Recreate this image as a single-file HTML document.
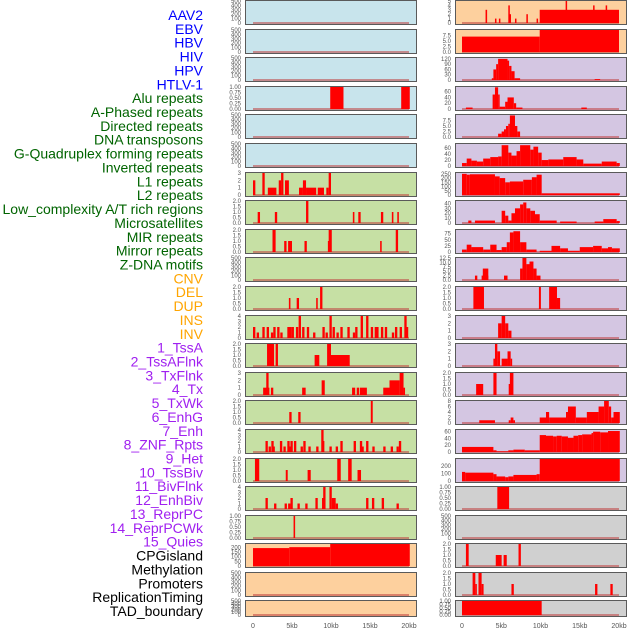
<!DOCTYPE html>
<html><head><meta charset="utf-8">
<style>
html,body{margin:0;padding:0;background:#fff;width:630px;height:630px;overflow:hidden}
svg{display:block;font-family:"Liberation Sans",sans-serif}
</style></head>
<body>
<svg id="chart" width="630" height="630" viewBox="0 0 630 630" xmlns="http://www.w3.org/2000/svg"></svg>
<script>
// ---- category labels ----
const labels = ["AAV2","EBV","HBV","HIV","HPV","HTLV-1","Alu repeats","A-Phased repeats","Directed repeats","DNA transposons","G-Quadruplex forming repeats","Inverted repeats","L1 repeats","L2 repeats","Low_complexity A/T rich regions","Microsatellites","MIR repeats","Mirror repeats","Z-DNA motifs","CNV","DEL","DUP","INS","INV","1_TssA","2_TssAFlnk","3_TxFlnk","4_Tx","5_TxWk","6_EnhG","7_Enh","8_ZNF_Rpts","9_Het","10_TssBiv","11_BivFlnk","12_EnhBiv","13_ReprPC","14_ReprPCWk","15_Quies","CPGisland","Methylation","Promoters","ReplicationTiming","TAD_boundary"];
const labelGroups = [6,13,5,15,5];
const groupColors = ["#0000ff","#006400","#ffa500","#a020f0","#000000"];
const xTickValues = [0,5,10,15,20];
const xTickLabels = ["0","5kb","10kb","15kb","20kb"];

// ---- tick label arrays ----
const T500 = ["0","100","200","300","400","500"];
const T2 = ["0.0","0.5","1.0","1.5","2.0"];
const T1 = ["0.00","0.25","0.50","0.75","1.00"];
const T3 = ["0","1","2","3"];
const T4 = ["0","1","2","3","4"];
const leftTicks = [T500,T500,T500,T1,T500,T500,T3,T2,T2,T500,T2,T4,T2,T3,T2,T4,T2,T4,T1,["0","50","100","150","200"],T500,T500];
const leftMax = [500,500,500,1,500,500,3,2,2,500,2,4,2,3,2,4,2,4,1,237,500,500];
const rightTicks = [["0","1","2","3","4","5"],["0.0","2.5","5.0","7.5"],["0","30","60","90","120"],["0","20","40","60"],["0.0","2.5","5.0","7.5"],["0","20","40","60"],["0","50","100","150","200","250"],["0","10","20","30","40"],["0","25","50","75"],["0.0","2.5","5.0","7.5","10.0","12.5"],T2,T3,T3,T2,["0","2","4","6","8"],["0","20","40","60"],["0","100","200"],T1,T500,T2,T2,T1];
const rightMax = [5,10,125,76,10,74,260,45,90,12.5,2,3,3,2,8,65,290,1,500,2,2,1];
const leftBg = ["#c8e4ec","#c8e4ec","#c8e4ec","#c8e4ec","#c8e4ec","#c8e4ec","#c6e0a4","#c6e0a4","#c6e0a4","#c6e0a4","#c6e0a4","#c6e0a4","#c6e0a4","#c6e0a4","#c6e0a4","#c6e0a4","#c6e0a4","#c6e0a4","#c6e0a4","#fdd09e","#fdd09e","#fdd09e"];
const rightBg = ["#fdd09e","#fdd09e","#d4c6e2","#d4c6e2","#d4c6e2","#d4c6e2","#d4c6e2","#d4c6e2","#d4c6e2","#d4c6e2","#d4c6e2","#d4c6e2","#d4c6e2","#d4c6e2","#d4c6e2","#d4c6e2","#d4c6e2","#d0d0d0","#d0d0d0","#d0d0d0","#d0d0d0","#d0d0d0"];

// ---- series: [startKb, endKb, value] ----
const L3 = [[9.9,11.6,1],[19.0,20.1,1]];
const L6 = [[0,0.3,2],[1.2,1.5,3],[1.9,3.0,1],[3.3,3.6,2],[3.6,3.9,3],[4.1,4.6,2],[5.9,6.4,1],[6.4,6.8,2],[6.8,8.1,1],[8.3,9.1,1],[9.4,9.7,1],[9.7,10.0,3]];
const L7 = [[0.6,0.9,1],[2.8,3.1,1],[6.8,7.1,2],[12.8,13.0,1],[13.5,13.8,1],[16.4,16.7,1],[17.8,18.0,1],[18.5,18.7,1]];
const L8 = [[2.5,2.9,2],[4.0,4.3,1],[4.5,5.0,1],[6.6,6.9,1],[9.6,9.7,1],[9.7,10.1,2],[16.3,16.5,1],[18.3,18.6,2]];
const L10 = [[4.6,4.8,1],[5.6,5.9,1],[8.1,8.3,1],[8.6,8.9,2]];
const L11pos = [0.0,0.47,1.2,1.75,2.3,2.6,3.1,3.5,4.4,4.65,4.95,5.5,5.85,6.3,6.9,7.7,8.9,9.3,9.8,10.2,10.7,11.2,12.1,12.8,13.1,13.8,14.5,15.1,15.6,15.8,16.4,16.9,17.8,18.2,18.8,19.4,19.6];
const L11val = [2,1,2,2,1,2,2,1,2,2,2,2,4,2,2,1,2,1,4,2,1,2,2,1,2,4,4,2,2,2,2,2,1,2,2,4,2];
const L12 = [[1.8,2.7,2],[2.9,3.2,2],[7.9,8.5,1],[9.5,10.0,2],[10.0,12.4,1]];
const L13 = [[1.3,2.1,1],[1.7,2.0,3],[2.3,2.6,1],[6.3,6.75,1],[8.8,9.2,2],[12.7,13.1,1],[13.3,13.6,1],[13.7,14.6,1],[16.7,17.5,1],[17.5,18.8,2],[18.8,19.3,3],[19.3,19.4,1]];
const L14 = [[4.65,4.95,1],[5.8,6.1,1],[15.1,15.35,2]];
const L15pos = [1.6,2.0,2.35,2.5,3.45,3.9,4.4,4.55,4.8,5.25,6.1,6.45,7.1,8.1,8.75,8.85,9.8,10.6,11.2,12.9,13.7,13.9,14.5,15.3,16.7,17.65,18.4,18.7];
const L15val = [2,1,2,1,2,1,2,1,2,2,1,2,1,1,4,2,1,1,2,2,2,1,2,1,1,1,1,2];
const L16 = [[0.25,0.8,2],[4.2,4.45,1],[7.0,7.4,1],[10.8,11.25,2],[12.2,12.65,2],[13.4,13.85,1]];
const L17pos = [1.6,2.7,4.05,4.5,4.8,5.7,6.7,8.0,8.85,9.0,9.8,10.1,10.3,10.6,14.5,15.25,16.5,18.4];
const L17val = [2,1,1,1,2,1,1,2,2,4,4,2,2,1,2,2,2,1];
const L18 = [[5.2,5.4,1]];
const L19 = [[0,4.65,193],[4.65,9.9,203],[9.9,20.1,240]];

const R0 = [[3.0,3.2,3],[4.2,4.35,1],[4.7,4.85,1],[5.9,6.05,4],[6.05,6.2,2],[6.75,6.9,1],[8.2,8.35,2],[9.5,9.65,1],[9.9,20.0,3],[13.2,13.35,5],[16.7,16.85,4],[18.3,18.45,4]];
const R1 = [[0,9.9,7.0],[9.9,20,10]];
const R2 = [[3.8,4.0,10],[4.0,4.35,60],[4.35,4.6,90],[4.6,5.8,120],[5.8,6.0,110],[6.0,6.3,80],[6.3,6.7,50],[6.7,7.4,10],[16.9,17.6,5]];
const R3 = [[0.5,1.35,5],[3.9,4.2,50],[4.2,4.6,75],[4.6,4.8,50],[4.8,5.5,8],[5.5,5.8,25],[5.8,6.6,40],[6.6,6.9,20],[6.9,7.7,5],[15.2,15.9,5]];
const R4 = [[4.6,5.05,1.5],[5.05,5.35,2.5],[5.35,5.6,3.5],[5.6,5.9,5],[5.9,6.1,6],[6.1,6.75,9.8],[6.75,7.05,5],[7.05,7.4,2.5]];
const R5 = [[0,0.6,10],[0.6,1.2,25],[1.2,1.9,18],[1.9,2.7,15],[2.7,3.6,25],[3.6,4.6,30],[4.6,5.05,32],[5.05,5.9,70],[5.9,6.3,45],[6.3,6.95,35],[6.95,7.4,50],[7.4,8.7,70],[8.7,9.1,55],[9.1,9.7,65],[9.7,10.15,45],[10.15,11.0,20],[11.0,12.9,22],[12.9,14.6,30],[14.6,15.45,22],[15.45,17.8,8],[17.8,19.7,15],[19.7,20.1,10]];
const R6 = [[0,0.6,250],[0.6,1.0,240],[1.0,4.2,245],[4.2,4.8,220],[4.8,5.5,200],[5.5,6.1,150],[6.1,7.8,160],[7.8,8.9,180],[8.9,9.5,210],[9.5,10.15,240],[10.15,20.1,20]];
const R7 = [[0.8,1.2,5],[1.65,4.2,5],[5.05,5.5,25],[5.5,5.9,15],[5.9,6.3,5],[6.3,6.75,20],[6.75,7.4,30],[7.4,7.8,38],[7.8,8.2,42],[8.2,8.7,30],[8.7,9.3,25],[9.3,9.9,18],[9.9,11.4,5],[11.4,12.06,5],[12.5,14.6,3],[16.9,18.0,3],[18.0,19.7,8],[19.7,20.1,4]];
const R8 = [[0,0.6,10],[0.6,1.2,30],[1.2,2.7,20],[2.7,3.6,10],[3.6,4.4,30],[4.4,5.05,8],[5.05,5.7,20],[5.7,6.1,40],[6.1,6.55,80],[6.55,7.4,85],[7.4,8.2,40],[8.2,9.5,10],[9.9,11.4,5],[11.4,12.5,25],[12.5,13.5,15],[13.5,15.0,5],[15.0,16.7,20],[16.7,17.8,25],[17.8,18.6,15],[18.6,19.1,20],[19.1,20.1,15]];
const R9 = [[1.65,1.95,2.5],[2.5,3.35,2.5],[2.65,3.35,6.5],[5.35,5.8,2.5],[7.4,7.7,6.5],[7.7,8.2,12.5],[8.2,8.6,9],[8.6,9.1,10.5],[9.1,9.5,6.5],[9.5,10.0,2.5]];
const R10 = [[1.45,2.8,2],[9.8,10.05,2],[11.1,12.1,2],[12.1,12.5,1]];
const R11 = [[4.6,5.05,2],[5.05,5.5,3],[5.5,5.9,2],[5.9,6.3,1]];
const R12 = [[4.0,4.2,1],[4.2,4.5,3],[4.5,4.85,2],[5.05,5.8,1],[5.8,6.2,2],[6.2,6.3,1]];
const R13 = [[1.8,2.7,1],[4.0,4.4,2],[5.95,6.1,1],[6.1,6.55,2]];
const R14 = [[2.2,4.2,1],[5.95,6.2,1],[6.2,6.55,2],[6.55,6.75,1],[9.9,10.7,2],[10.7,11.1,4],[11.1,13.25,2],[13.25,13.5,4],[13.5,14.5,6],[14.5,15.9,2],[15.9,17.4,4],[17.4,18.1,6],[18.1,18.7,8],[18.7,19.0,6],[19.0,19.3,2],[19.3,20.1,4]];
const R15 = [[0,4.0,15],[4.0,4.4,5],[4.4,5.9,2],[5.9,6.55,5],[6.55,8.0,7],[8.0,9.9,5],[9.9,10.7,50],[10.7,11.6,48],[11.6,12.06,46],[12.06,12.7,48],[12.7,13.5,46],[13.5,14.2,42],[14.2,14.8,48],[14.8,15.3,50],[15.3,16.5,52],[16.5,16.7,56],[16.7,17.6,60],[17.6,18.6,58],[18.6,20.1,62]];
const R16 = [[0,0.4,120],[0.4,4.0,110],[4.0,4.4,90],[4.4,5.5,60],[5.5,5.9,50],[5.9,6.55,60],[6.55,9.5,80],[9.5,9.9,90],[9.9,20.1,300]];
const R17 = [[4.5,6.0,1]];
const R19 = [[0.5,0.85,2],[4.3,5.05,1],[5.3,5.7,1],[7.2,7.5,2]];
const R20 = [[1.35,1.7,2],[1.7,1.8,1],[2.1,2.5,2],[2.5,2.75,1],[6.3,6.6,1],[16.95,17.25,1],[18.9,19.2,1]];
const R21 = [[0,10.15,1]];

const NS = "http://www.w3.org/2000/svg";
const svg = document.getElementById("chart");
function toSegs(pos, val){ return pos.map((p,i)=>[p,p+0.3,val[i]]); }
const leftSeries = [[],[],[],L3,[],[],L6,L7,L8,[],L10,toSegs(L11pos,L11val),L12,L13,L14,toSegs(L15pos,L15val),L16,toSegs(L17pos,L17val),L18,L19,[],[]];
const rightSeries = [R0,R1,R2,R3,R4,R5,R6,R7,R8,R9,R10,R11,R12,R13,R14,R15,R16,R17,[],R19,R20,R21];

function mk(tag, attrs){ const e=document.createElementNS(NS,tag); for(const k in attrs) e.setAttribute(k,attrs[k]); return e; }

// labels
let li=0;
labelGroups.forEach((n,g)=>{
  for(let j=0;j<n;j++){
    const t=mk("text",{x:203,y:15+li*13.86+5,"text-anchor":"end","font-size":"14",fill:groupColors[g]});
    t.textContent=labels[li];
    
    
    svg.appendChild(t); li++;
  }
});

function rowTop(i){ return i===21 ? 600 : Math.round(i*28.6); }
function rowH(i){ return i===21 ? 17 : 25; }

function drawPanel(col, i){
  const x0 = col===0 ? 245 : 455, x1 = col===0 ? 417 : 627;
  const xs = col===0 ? (k)=>253 + k*7.8 : (k)=>462 + k*7.85;
  const top=rowTop(i), h=rowH(i), bot=top+h;
  const ticks = col===0 ? leftTicks[i] : rightTicks[i];
  const maxV = col===0 ? leftMax[i] : rightMax[i];
  const series = col===0 ? leftSeries[i] : rightSeries[i];
  const bg = col===0 ? leftBg[i] : rightBg[i];
  const ys = (v)=> bot-2 - Math.min(v,maxV)/maxV*(h-3);
  const g=mk("g",{});
  
  
  g.appendChild(mk("rect",{x:x0+0.5,y:top+0.5,width:x1-x0-1,height:h-1,fill:bg,stroke:"#5a5a5a","stroke-width":1}));
  g.appendChild(mk("rect",{x:xs(0),y:bot-3,width:xs(20)-xs(0),height:2,fill:"#c04040","fill-opacity":0.55}));
  series.forEach(s=>{
    const r=mk("rect",{x:xs(s[0]),y:ys(s[2]),width:Math.max(xs(s[1])-xs(s[0]),1.5),height:bot-2-ys(s[2]),fill:"#ff0000"});
    
    
    g.appendChild(r);
  });
  ticks.forEach(lbl=>{
    const v=parseFloat(lbl);
    const t=mk("text",{x:x0-4,y:ys(v)+2,"text-anchor":"end","font-size":"6",fill:"#555"});
    t.textContent=lbl;
    
    
    g.appendChild(t);
  });
  svg.appendChild(g);
}
for(let i=0;i<22;i++){ drawPanel(0,i); drawPanel(1,i); }

// x axes
[0,1].forEach(col=>{
  const xs = col===0 ? (k)=>253 + k*7.8 : (k)=>462 + k*7.85;
  xTickValues.forEach((v,j)=>{
    const t=mk("text",{x:xs(v),y:628,"text-anchor":"middle","font-size":"7",fill:"#555"});
    t.textContent=xTickLabels[j];
    
    
    svg.appendChild(t);
  });
});
</script>
</body></html>
